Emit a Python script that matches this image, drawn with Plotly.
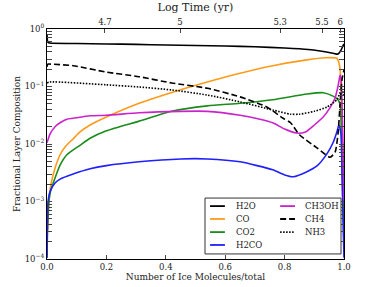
import plotly.graph_objects as go

# ---------------- data ----------------
h2o_x = [0, 0.003, 0.01, 0.1, 0.2, 0.3, 0.4, 0.5, 0.6, 0.7, 0.8, 0.88, 0.92, 0.95, 0.97, 0.98, 0.99, 0.995, 1.0]
h2o_y = [0.82, 0.59, 0.57, 0.56, 0.55, 0.54, 0.527, 0.517, 0.506, 0.49, 0.467, 0.44, 0.414, 0.39, 0.37, 0.367, 0.43, 0.49, 0.55]

co_x = [0.002, 0.007, 0.013, 0.027, 0.044, 0.064, 0.088, 0.111, 0.145, 0.2, 0.31, 0.42, 0.54, 0.65, 0.76, 0.875,
        0.936, 0.976, 0.983, 0.987, 0.99, 0.993, 0.997, 1.0]
co_y = [3.2e-4, 1.07e-3, 1.95e-3, 3.8e-3, 6.5e-3, 9.3e-3, 1.23e-2, 1.62e-2, 2.14e-2, 2.95e-2, 5.1e-2, 7.9e-2, 0.12, 0.17,
        0.23, 0.29, 0.316, 0.31, 0.257, 0.195, 0.087, 0.0174, 2.5e-3, 5e-4]

co2_x = [0, 0.002, 0.007, 0.013, 0.027, 0.044, 0.067, 0.111, 0.145, 0.2, 0.31, 0.42, 0.54, 0.65, 0.76, 0.875, 0.93,
         0.963, 0.98, 0.987, 0.99, 0.993, 0.997, 1.0]
co2_y = [1.05e-4, 4.0e-4, 1.07e-3, 1.58e-3, 2.57e-3, 4.3e-3, 6.5e-3, 9.5e-3, 1.26e-2, 1.7e-2, 2.5e-2, 3.7e-2, 4.6e-2,
         5.1e-2, 5.9e-2, 7.4e-2, 7.8e-2, 6.8e-2, 5.9e-2, 4.8e-2, 2.6e-2, 5.2e-3, 7.1e-4, 1.45e-4]

h2co_x = [0, 0.002, 0.003, 0.01, 0.027, 0.044, 0.088, 0.145, 0.2, 0.31, 0.45, 0.54, 0.65, 0.76, 0.8, 0.83, 0.87, 0.91,
          0.943, 0.963, 0.976, 0.983, 0.99, 0.993, 0.997, 1.0]
h2co_y = [1.05e-4, 5.9e-4, 9.3e-4, 1.48e-3, 2.1e-3, 2.45e-3, 3.0e-3, 3.7e-3, 4.2e-3, 4.9e-3, 5.5e-3, 5.5e-3, 4.9e-3,
          3.55e-3, 2.9e-3, 2.7e-3, 3.2e-3, 4.2e-3, 6.8e-3, 1.05e-2, 1.62e-2, 2.14e-2, 1.45e-2, 3.55e-3, 4.8e-4, 1.05e-4]

ch3oh_x = [0, 0.003, 0.01, 0.027, 0.044, 0.067, 0.088, 0.145, 0.2, 0.31, 0.45, 0.54, 0.65, 0.717, 0.76, 0.8, 0.84,
           0.87, 0.9, 0.93, 0.953, 0.97, 0.98, 0.987, 0.99, 0.993, 0.997, 1.0]
ch3oh_y = [1.05e-2, 1.17e-2, 1.48e-2, 2.0e-2, 2.34e-2, 2.7e-2, 2.8e-2, 3.1e-2, 3.16e-2, 3.5e-2, 3.7e-2, 3.7e-2,
           3.16e-2, 2.7e-2, 2.34e-2, 1.82e-2, 1.55e-2, 1.62e-2, 2.14e-2, 2.95e-2, 4.3e-2, 6.3e-2, 0.102, 0.158,
           0.141, 0.059, 7.9e-3, 1.07e-3]

ch4_x = [0, 0.003, 0.01, 0.088, 0.2, 0.31, 0.42, 0.54, 0.65, 0.74, 0.795, 0.82, 0.85, 0.91, 0.953, 0.97, 0.98,
         0.987, 0.993, 1.0]
ch4_y = [0.22, 0.245, 0.245, 0.23, 0.178, 0.148, 0.115, 0.093, 0.066, 0.044, 0.028, 0.0234, 0.0145, 0.0085,
         0.0059, 0.0072, 0.0155, 0.051, 0.129, 0.195]

nh3_x = [0, 0.01, 0.2, 0.31, 0.42, 0.54, 0.65, 0.76, 0.82, 0.85, 0.9, 0.943, 0.976, 0.987, 0.993, 1.0]
nh3_y = [0.115, 0.12, 0.107, 0.098, 0.087, 0.071, 0.054, 0.039, 0.033, 0.033, 0.037, 0.044, 0.059, 0.079, 0.087, 0.071]

# bottom axis ticks
x_ticks = [0.0, 0.2, 0.4, 0.6, 0.8, 1.0]
x_ticktext = ["0.0", "0.2", "0.4", "0.6", "0.8", "1.0"]
# top axis: log time labels and their positions along the bottom axis
time_pos = [0.195, 0.448, 0.785, 0.926, 0.987]
time_text = ["4.7", "5", "5.3", "5.5", "6"]
# y ticks
y_ticks = [1e-4, 1e-3, 1e-2, 1e-1, 1]
y_ticktext = ["10<sup>\u22124</sup>", "10<sup>\u22123</sup>", "10<sup>\u22122</sup>", "10<sup>\u22121</sup>", "10<sup>0</sup>"]
y_minor = [k * 10.0 ** e for e in range(-4, 0) for k in range(2, 10)]

FONT = "DejaVu Serif"
TXT = "#222222"
DASH = "6px,3px"
DOT = "1.5px,1.5px"

series = [("H2O", h2o_x, h2o_y, "#000000", "solid"),
          ("CO", co_x, co_y, "#ff9a1a", "solid"),
          ("CO2", co2_x, co2_y, "#1a8c1a", "solid"),
          ("H2CO", h2co_x, h2co_y, "#1f1fff", "solid"),
          ("CH3OH", ch3oh_x, ch3oh_y, "#cc22cc", "solid"),
          ("CH4", ch4_x, ch4_y, "#000000", DASH),
          ("NH3", nh3_x, nh3_y, "#000000", DOT)]

fig = go.Figure()
for name, xs, ys, c, d in series:
    fig.add_trace(go.Scatter(x=xs, y=ys, name=name, mode="lines", showlegend=False,
                             line=dict(color=c, width=1.6, dash=d, shape="spline", smoothing=0.6)))

# invisible trace to carry the top axis
fig.add_trace(go.Scatter(x=[0, 1], y=[1e-4, 1e-4], xaxis="x2", yaxis="y", mode="lines",
                         line=dict(width=0), showlegend=False, hoverinfo="skip"))

# ---- legend box (two columns, like the reference) ----
box = dict(x0=0.532, x1=0.99, y0=0.022, y1=0.265)
col_x = [(0.549, 0.599, 0.63), (0.785, 0.835, 0.862)]   # sample start, sample end, label x
row_y = [0.230, 0.174, 0.117, 0.061]
shapes = [dict(type="rect", xref="paper", yref="paper", line=dict(color="#333333", width=1),
               fillcolor="white", layer="above", **box)]
annotations = []
for i, (name, xs, ys, c, d) in enumerate(series):
    col, row = (0, i) if i < 4 else (1, i - 4)
    x0, x1, xl = col_x[col]
    yy = row_y[row]
    shapes.append(dict(type="line", xref="paper", yref="paper", x0=x0, x1=x1, y0=yy, y1=yy,
                       line=dict(color=c, width=1.8, dash=d), layer="above"))
    annotations.append(dict(xref="paper", yref="paper", x=xl, y=yy, text=name, showarrow=False,
                            xanchor="left", yanchor="middle", font=dict(family=FONT, size=8.5, color=TXT)))

tickfont = dict(family=FONT, size=8.5, color=TXT)

fig.update_layout(
    width=382, height=287,
    margin=dict(l=47, r=38, t=29, b=28, autoexpand=False),
    paper_bgcolor="white", plot_bgcolor="white",
    font=dict(family=FONT, size=9, color=TXT),
    xaxis=dict(range=[0, 1], tickvals=x_ticks, ticktext=x_ticktext, ticks="inside", ticklen=4,
               showgrid=False, zeroline=False, showline=True, linecolor="black", linewidth=1, automargin=False,
               tickfont=tickfont,
               title=dict(text="Number of Ice Molecules/total", font=dict(family=FONT, size=9, color=TXT), standoff=0)),
    xaxis2=dict(range=[0, 1], overlaying="x", side="top", anchor="y", tickvals=time_pos, ticktext=time_text,
                ticks="inside", ticklen=4, showgrid=False, zeroline=False, showline=True, linecolor="black",
                linewidth=1, tickfont=tickfont, automargin=False,
                title=dict(text="Log Time (yr)", font=dict(family=FONT, size=11, color=TXT), standoff=2)),
    yaxis=dict(type="log", range=[-4, 0], tickvals=y_ticks, ticktext=y_ticktext, ticks="inside", ticklen=5,
               mirror="allticks", showgrid=False, zeroline=False, showline=True, linecolor="black", linewidth=1,
               tickfont=tickfont, automargin=False,
               minor=dict(tickvals=y_minor, ticks="inside", ticklen=2.5, showgrid=False),
               title=dict(text="Fractional Layer Composition", font=dict(family=FONT, size=9, color=TXT), standoff=2)),
    shapes=shapes,
    annotations=annotations,
    showlegend=False,
)

# remove the browser's default 8px page margin so the figure sits at the window's corner
fig.write_html("out.html", config={"displayModeBar": False},
               post_script="document.body.style.margin='0px';")
